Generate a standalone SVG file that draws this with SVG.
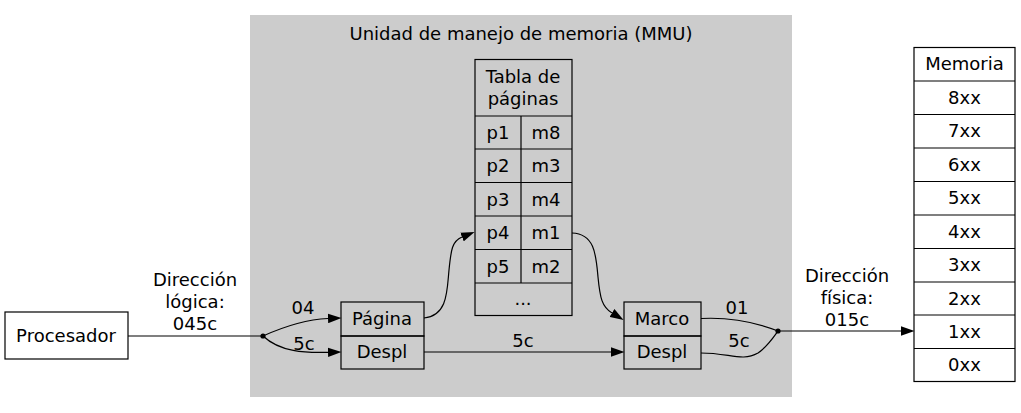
<svg xmlns="http://www.w3.org/2000/svg" width="1021" height="413" viewBox="0 0 1021 413">
<defs>
<style>
text{font-family:"DejaVu Sans","Liberation Sans",sans-serif;font-size:18px;fill:#000;text-anchor:middle}
.box{fill:#fff;stroke:#000;stroke-width:1.2}
.cell{fill:none;stroke:#000;stroke-width:1.2}
.edge{fill:none;stroke:#000;stroke-width:1.2}
</style>
<marker id="arr" markerUnits="userSpaceOnUse" markerWidth="14" markerHeight="10" viewBox="0 0 14 10" refX="0" refY="5" orient="auto">
<polygon points="0,0.3 13.5,5 0,9.7" fill="#000"/>
</marker>
</defs>
<rect width="1021" height="413" fill="#fff"/>
<g id="mmu">
<rect x="250" y="15" width="542" height="382" fill="#cccccc"/>
<text x="521" y="40">Unidad de manejo de memoria (MMU)</text>
</g>
<g id="procesador">
<rect class="box" x="5" y="312" width="123" height="47"/>
<text x="66" y="342">Procesador</text>
</g>
<g id="logica">
<rect class="cell" x="341" y="302" width="83" height="34"/>
<rect class="cell" x="341" y="336" width="83" height="33"/>
<text x="382" y="325">Página</text>
<text x="382" y="358">Despl</text>
</g>
<g id="tabla">
<rect class="cell" x="475" y="59.5" width="97" height="256"/>
<line class="cell" x1="475" y1="116" x2="572" y2="116"/>
<line class="cell" x1="475" y1="149" x2="572" y2="149"/>
<line class="cell" x1="475" y1="182.5" x2="572" y2="182.5"/>
<line class="cell" x1="475" y1="216" x2="572" y2="216"/>
<line class="cell" x1="475" y1="249.5" x2="572" y2="249.5"/>
<line class="cell" x1="475" y1="283" x2="572" y2="283"/>
<line class="cell" x1="521" y1="116" x2="521" y2="283"/>
<text x="523" y="83">Tabla de</text>
<text x="523" y="105">páginas</text>
<text x="498" y="139">p1</text><text x="546" y="139">m8</text>
<text x="498" y="172">p2</text><text x="546" y="172">m3</text>
<text x="498" y="206">p3</text><text x="546" y="206">m4</text>
<text x="498" y="239">p4</text><text x="546" y="239">m1</text>
<text x="498" y="273">p5</text><text x="546" y="273">m2</text>
<text x="523" y="305">...</text>
</g>
<g id="fisica">
<rect class="cell" x="624" y="302" width="77" height="34"/>
<rect class="cell" x="624" y="336" width="77" height="33"/>
<text x="662" y="325">Marco</text>
<text x="662" y="358">Despl</text>
</g>
<g id="memoria">
<rect class="box" x="914" y="47.5" width="101" height="334"/>
<line class="cell" x1="914" y1="81" x2="1015" y2="81"/>
<line class="cell" x1="914" y1="114.5" x2="1015" y2="114.5"/>
<line class="cell" x1="914" y1="148" x2="1015" y2="148"/>
<line class="cell" x1="914" y1="181.5" x2="1015" y2="181.5"/>
<line class="cell" x1="914" y1="215" x2="1015" y2="215"/>
<line class="cell" x1="914" y1="248.5" x2="1015" y2="248.5"/>
<line class="cell" x1="914" y1="282" x2="1015" y2="282"/>
<line class="cell" x1="914" y1="315" x2="1015" y2="315"/>
<line class="cell" x1="914" y1="348.5" x2="1015" y2="348.5"/>
<text x="964.5" y="70">Memoria</text>
<text x="964.5" y="104">8xx</text>
<text x="964.5" y="137">7xx</text>
<text x="964.5" y="171">6xx</text>
<text x="964.5" y="204">5xx</text>
<text x="964.5" y="238">4xx</text>
<text x="964.5" y="271">3xx</text>
<text x="964.5" y="305">2xx</text>
<text x="964.5" y="338">1xx</text>
<text x="964.5" y="371">0xx</text>
</g>
<g id="connectors">
<path class="edge" d="M128,336 L263,336"/>
<circle cx="263" cy="336" r="2.6" fill="#000"/>
<path class="edge" d="M263,336 C283,327 305,319.5 328,318.5" marker-end="url(#arr)"/>
<path class="edge" d="M263,336 C280,352 305,353 328,352.3" marker-end="url(#arr)"/>
<path class="edge" d="M424,318 C448,316 447,290 449,270 C451,250 452,241 462,237" marker-end="url(#arr)"/>
<path class="edge" d="M572,233 C595,234 596,255 598,277 C600,298 602,307 612,313" marker-end="url(#arr)"/>
<path class="edge" d="M424,352 L611,352" marker-end="url(#arr)"/>
<path class="edge" d="M701,318.5 C730,317 755,322 778,331"/>
<path class="edge" d="M701,353 C730,353 742,362 758,353 C767,347 773,338 778,331"/>
<circle cx="778" cy="331" r="2.6" fill="#000"/>
<path class="edge" d="M778,331 L901,331" marker-end="url(#arr)"/>
<text x="195" y="286">Dirección</text>
<text x="195" y="308">lógica:</text>
<text x="195" y="330">045c</text>
<text x="303" y="314">04</text>
<text x="304" y="350">5c</text>
<text x="523" y="347">5c</text>
<text x="737" y="314">01</text>
<text x="739" y="347">5c</text>
<text x="847" y="282">Dirección</text>
<text x="847" y="304">física:</text>
<text x="847" y="326">015c</text>
</g>
</svg>
